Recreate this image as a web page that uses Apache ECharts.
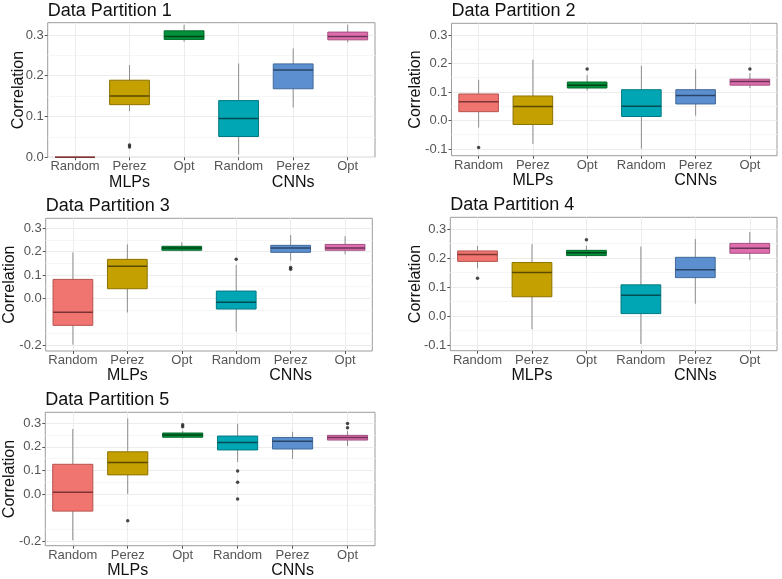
<!DOCTYPE html>
<html><head><meta charset="utf-8">
<script src="https://cdn.jsdelivr.net/npm/echarts@6/dist/echarts.min.js"></script>
<style>html,body{margin:0;padding:0;background:#fff}#c{width:782px;height:579px}</style>
</head><body><div id="c"></div>
<script>
const categories = ['Random', 'Perez', 'Opt', 'Random', 'Perez', 'Opt'];
const groupLabels = ['', 'MLPs', '', '', 'CNNs', ''];
const titles = ['Data Partition 1', 'Data Partition 2', 'Data Partition 3', 'Data Partition 4', 'Data Partition 5'];

// each box: [lower whisker, Q1, median, Q3, upper whisker]
const partition1Boxes = [
  [0, 0, 0, 0, 0],
  [0.113, 0.129, 0.150, 0.189, 0.226],
  [0.283, 0.289, 0.296, 0.310, 0.325],
  [0.007, 0.051, 0.095, 0.139, 0.230],
  [0.122, 0.168, 0.214, 0.229, 0.267],
  [0.282, 0.288, 0.296, 0.307, 0.325]
];
const partition1Outliers = [[1, 0.025], [1, 0.030]];

const partition2Boxes = [
  [-0.025, 0.031, 0.066, 0.093, 0.143],
  [-0.082, -0.014, 0.049, 0.086, 0.213],
  [0.105, 0.114, 0.124, 0.135, 0.160],
  [-0.099, 0.014, 0.050, 0.108, 0.192],
  [0.017, 0.058, 0.088, 0.108, 0.180],
  [0.114, 0.124, 0.137, 0.145, 0.166]
];
const partition2Outliers = [[0, -0.095], [2, 0.181], [5, 0.181]];

const partition3Boxes = [
  [-0.199, -0.116, -0.060, 0.081, 0.197],
  [-0.061, 0.041, 0.137, 0.167, 0.231],
  [0.201, 0.206, 0.216, 0.223, 0.240],
  [-0.143, -0.046, -0.017, 0.031, 0.143],
  [0.161, 0.197, 0.216, 0.227, 0.271],
  [0.189, 0.206, 0.216, 0.231, 0.266]
];
const partition3Outliers = [[3, 0.167], [4, 0.132], [4, 0.125]];

const partition4Boxes = [
  [0.165, 0.189, 0.213, 0.225, 0.242],
  [-0.045, 0.067, 0.151, 0.185, 0.248],
  [0.202, 0.209, 0.219, 0.227, 0.243],
  [-0.096, 0.009, 0.072, 0.108, 0.240],
  [0.043, 0.133, 0.160, 0.203, 0.266],
  [0.194, 0.217, 0.234, 0.251, 0.290]
];
const partition4Outliers = [[0, 0.131], [2, 0.264]];

const partition5Boxes = [
  [-0.197, -0.073, 0.007, 0.126, 0.276],
  [0.0, 0.081, 0.134, 0.179, 0.321],
  [0.236, 0.241, 0.251, 0.259, 0.268],
  [0.136, 0.187, 0.219, 0.246, 0.297],
  [0.149, 0.191, 0.224, 0.240, 0.264],
  [0.204, 0.229, 0.240, 0.249, 0.268]
];
const partition5Outliers = [[1, -0.114], [2, 0.294], [2, 0.286], [3, 0.097], [3, 0.050], [3, -0.021], [5, 0.299], [5, 0.281]];

const yTickLabels1 = [0, 0.1, 0.2, 0.3];
const yTickLabels2 = [-0.1, 0, 0.1, 0.2, 0.3];
const yTickLabels3 = [-0.2, 0, 0.1, 0.2, 0.3];
const yTickLabels4 = [-0.1, 0, 0.1, 0.2, 0.3];
const yTickLabels5 = [-0.2, 0, 0.1, 0.2, 0.3];

const yRanges = [[0, 0.330], [-0.1235, 0.341], [-0.226, 0.343], [-0.119, 0.341], [-0.22, 0.347]];

const allBoxes = [partition1Boxes, partition2Boxes, partition3Boxes, partition4Boxes, partition5Boxes];
const allOutliers = [partition1Outliers, partition2Outliers, partition3Outliers, partition4Outliers, partition5Outliers];
const allTicks = [yTickLabels1, yTickLabels2, yTickLabels3, yTickLabels4, yTickLabels5];

// layout (pixels)
const grids = [
  {left: 47.7, top: 22.7, width: 327.3, height: 134.6, nameGap: 21.4},
  {left: 451.5, top: 23.3, width: 325.5, height: 132.4, nameGap: 27.5},
  {left: 45.7, top: 218.3, width: 326.6, height: 132.7, nameGap: 28.4},
  {left: 450.3, top: 217.3, width: 326.7, height: 133.4, nameGap: 26.3},
  {left: 45.3, top: 412.3, width: 329.7, height: 133.4, nameGap: 28}
];

const fills = ['#F07470', '#C4A000', '#00913A', '#00A6B3', '#5B8FD0', '#DE6EAE'];
const borders = ['#b5524e', '#8c7200', '#006a2a', '#007983', '#406898', '#a44f80'];
const medians = ['#7a3532', '#5a4a00', '#00421a', '#004c52', '#2a4466', '#6b3354'];

const FONT = 'Liberation Sans, Arial, sans-serif';

function renderBox(params, api) {
  const i = api.value(0);
  const x = api.coord([i, 0])[0];
  const bw = api.size([1, 0])[0] * 0.73;
  const yLow = api.coord([i, api.value(1)])[1];
  const yQ1 = api.coord([i, api.value(2)])[1];
  const yMed = api.coord([i, api.value(3)])[1];
  const yQ3 = api.coord([i, api.value(4)])[1];
  const yHigh = api.coord([i, api.value(5)])[1];
  const whisk = {stroke: '#8e8e8e', lineWidth: 1};
  return {
    type: 'group',
    children: [
      {type: 'line', shape: {x1: x, y1: yHigh, x2: x, y2: yQ3}, style: whisk},
      {type: 'line', shape: {x1: x, y1: yQ1, x2: x, y2: yLow}, style: whisk},
      {type: 'rect', shape: {x: x - bw / 2, y: yQ3, width: bw, height: yQ1 - yQ3},
        style: {fill: fills[i], stroke: borders[i], lineWidth: 1}},
      {type: 'line', shape: {x1: x - bw / 2, y1: yMed, x2: x + bw / 2, y2: yMed},
        style: {stroke: medians[i], lineWidth: 1.5}}
    ]
  };
}

const option = {
  backgroundColor: '#ffffff',
  animation: false,
  textStyle: {fontFamily: FONT},
  title: [], grid: [], xAxis: [], yAxis: [], series: []
};

grids.forEach((g, k) => {
  option.title.push({
    text: titles[k], left: g.left, top: g.top - 21, padding: 0,
    textStyle: {fontSize: 18, fontWeight: 'normal', color: '#111', fontFamily: FONT}
  });
  option.grid.push({
    left: g.left, top: g.top, width: g.width, height: g.height,
    show: true, borderColor: '#9c9c9c', borderWidth: 1, backgroundColor: '#fff',
    containLabel: false
  });
  option.xAxis.push({
    type: 'category', gridIndex: k, data: categories, position: 'bottom',
    axisLine: {show: false, onZero: false},
    axisTick: {show: true, alignWithLabel: true, length: 3, lineStyle: {color: '#555'}},
    axisLabel: {fontSize: 13, color: '#555', margin: 3, fontFamily: FONT, interval: 0},
    splitLine: {show: true, alignWithLabel: true, lineStyle: {color: '#ececec', width: 1}}
  });
  option.xAxis.push({
    type: 'category', gridIndex: k, data: groupLabels, position: 'bottom',
    axisLine: {show: false, onZero: false}, axisTick: {show: false}, splitLine: {show: false},
    axisLabel: {fontSize: 16, color: '#111', margin: 17, fontFamily: FONT, interval: 0}
  });
  option.yAxis.push({
    type: 'value', gridIndex: k, min: yRanges[k][0], max: yRanges[k][1],
    minInterval: 0.1, maxInterval: 0.1,
    name: 'Correlation', nameLocation: 'middle', nameRotate: 90, nameGap: g.nameGap,
    nameMoveOverlap: false,
    nameTextStyle: {fontSize: 16, color: '#111', fontFamily: FONT},
    axisLine: {show: false, onZero: false},
    axisTick: {show: true, length: 3, lineStyle: {color: '#555'}, customValues: allTicks[k]},
    axisLabel: {fontSize: 13, color: '#555', margin: 4, fontFamily: FONT,
      customValues: allTicks[k], formatter: v => v.toFixed(1)},
    splitLine: {show: true, lineStyle: {color: '#ececec', width: 1}},
    minorTick: {show: false, splitNumber: 2},
    minorSplitLine: {show: true, lineStyle: {color: '#f6f6f6', width: 1}}
  });
  option.series.push({
    type: 'custom', xAxisIndex: 2 * k, yAxisIndex: k,
    renderItem: renderBox,
    encode: {x: 0, y: [1, 2, 3, 4, 5]},
    data: allBoxes[k].map((b, i) => [i].concat(b)),
    z: 3
  });
  option.series.push({
    type: 'scatter', xAxisIndex: 2 * k, yAxisIndex: k,
    symbolSize: 3.5, itemStyle: {color: '#1a1a1a'},
    data: allOutliers[k], z: 4
  });
});

const chart = echarts.init(document.getElementById('c'), null, {renderer: 'canvas'});
chart.setOption(option);
</script></body></html>
